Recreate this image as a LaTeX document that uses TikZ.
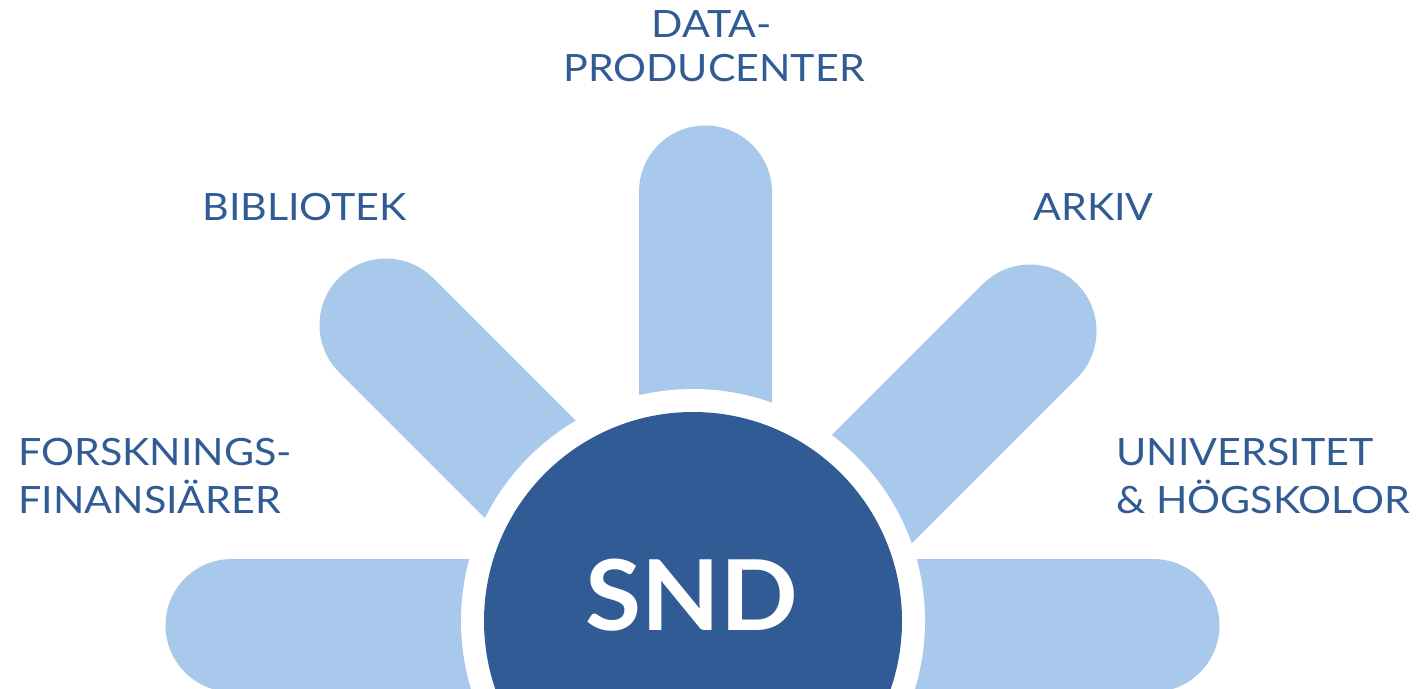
\documentclass[tikz,border=0pt]{standalone}
\usepackage{fontspec}
\setmainfont{Lato}
\newfontfamily\lblfont{Lato}[FakeStretch=1.095]
\newfontfamily\sndfont{Lato}[FakeStretch=1.045]
\definecolor{sndblue}{RGB}{49,91,148}
\definecolor{raylight}{RGB}{168,201,236}
\begin{document}
\begin{tikzpicture}[x=0.5pt,y=-0.5pt,
  ray/.style={draw=raylight,line width=66.5pt,line cap=round},
  lbl/.style={text=sndblue,font=\lblfont\fontsize{18.8pt}{22pt}\selectfont,inner sep=0pt,anchor=base west},
  lblc/.style={lbl,anchor=base}]
\useasboundingbox (0,0) rectangle (1423,689);
\clip (0,0) rectangle (1423,689);
% rays
\draw[ray] (232,625) -- (693,625);
\draw[ray] (1153,625) -- (693,625);
\draw[ray] (705,192) -- (705,621);
\draw[ray] (386,325) -- (700,639);
\draw[ray] (1030,331) -- (720,641);
% centre
\fill[white] (693,621) circle[radius=116pt];
\node[circle,fill=sndblue,minimum size=209pt,inner sep=0pt] (snd) at (693,621) {};
\node[text=white,font=\sndfont\bfseries\fontsize{48.9pt}{50pt}\selectfont,inner sep=0pt,anchor=base] (sndtext) at (692,630) {SND};
% labels
\node[lblc] (data1) at (712,38) {DATA-};
\node[lblc] (data2) at (714,82) {PRODUCENTER};
\node[lbl] (bib) at (202,221) {BIBLIOTEK};
\node[lbl] (ark) at (1033,221) {ARKIV};
\node[lbl] (fors1) at (18,465) {FORSKNINGS-};
\node[lbl] (fors2) at (18,513) {FINANSIÄRER};
\node[lbl] (uni1) at (1116,465) {UNIVERSITET};
\node[lbl] (uni2) at (1116,513) {\& HÖGSKOLOR};
\end{tikzpicture}
\end{document}
